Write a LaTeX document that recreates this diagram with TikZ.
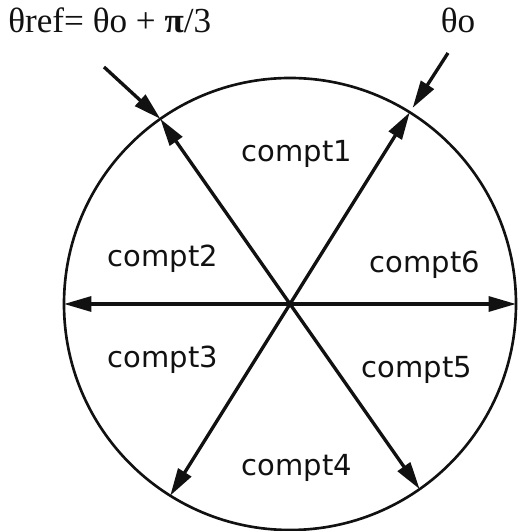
\documentclass[tikz,border=0pt]{standalone}
\usepackage{fontspec}
\usepackage{tikz}
\usetikzlibrary{arrows.meta}
\newfontfamily\comptfont{DejaVu Sans}
\newfontfamily\anglefont{Liberation Serif}
\definecolor{inkblack}{HTML}{111111}

\begin{document}
\begin{tikzpicture}[x=0.2mm, y=0.2mm,
  comptlabel/.style={anchor=base, inner sep=0pt, font=\comptfont\fontsize{16.5}{18}\selectfont, text=inkblack},
  anglelabel/.style={anchor=base, inner sep=0pt, font=\anglefont\fontsize{20}{22}\selectfont, text=inkblack},
  diam/.style={draw=inkblack, line width=1.9pt, {Triangle[length=5.5mm, width=3mm]}-{Triangle[length=5.5mm, width=3mm]}},
  pointer/.style={draw=inkblack, line width=1.9pt, -{Triangle[length=5.5mm, width=3mm]}}]
  \useasboundingbox (-290,-227) rectangle (229,304);
  \coordinate (c) at (0,0);
  \draw[inkblack, line width=1.5pt] (c) circle (226);
  % ends of the three diameters
  \coordinate (e0) at (0:226);
  \coordinate (e1) at (58:226);
  \coordinate (e2) at (125:226);
  \coordinate (e3) at (180:226);
  \coordinate (e4) at (238:226);
  \coordinate (e5) at (305:226);
  \draw[diam] (e3) -- (e0);
  \draw[diam] (e4) -- (e1);
  \draw[diam] (e5) -- (e2);
  % the two reference directions
  \coordinate (tref) at (-186,237);
  \coordinate (tzero) at (158,251);
  \draw[pointer] (tref) -- (e2);
  \draw[pointer, shorten >=3pt] (tzero) -- (e1);
  \node[anglelabel, anchor=base west] (reflbl) at (-282,271) {θref= θo + \textbf{π}/3};
  \node[anglelabel] (zerolbl) at (168,271) {θo};
  % compartments
  \node[comptlabel] (c1) at (7,142) {compt1};
  \node[comptlabel] (c2) at (-127,37) {compt2};
  \node[comptlabel] (c3) at (-127,-64) {compt3};
  \node[comptlabel] (c4) at (7,-171) {compt4};
  \node[comptlabel] (c5) at (127,-74) {compt5};
  \node[comptlabel] (c6) at (135,31) {compt6};
\end{tikzpicture}
\end{document}
